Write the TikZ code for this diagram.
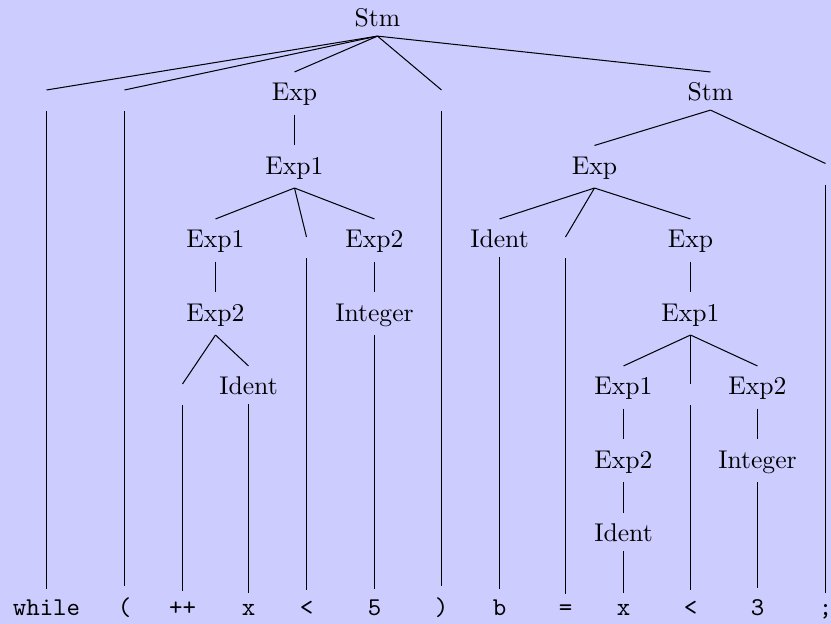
\documentclass[tikz,border=0pt]{standalone}
\usepackage{fontspec}
\begin{document}
\begin{tikzpicture}[x=0.39pt,y=-0.39pt,
  nt/.style={anchor=base,inner sep=3.33pt,text height=7.6pt},
  gap/.style={inner sep=0pt,minimum width=0pt,minimum height=7.8pt},
  term/.style={anchor=base,inner sep=4pt,font=\ttfamily},
  edge/.style={draw=black,line width=0.4pt}]
% canvas
\fill[blue!20] (0,0) rectangle (831,624);
\useasboundingbox (0,0) rectangle (831,624);

% level 0
\node[nt] (s0) at (377.5,26.5) {Stm};
% level 1
\node[gap] (gw) at (46.5,100.5) {};
\node[gap] (gl) at (124.5,100.5) {};
\node[nt] (e1) at (294.5,100.5) {Exp};
\node[gap] (gr) at (441.5,100.5) {};
\node[nt] (s1) at (710.5,100.5) {Stm};
% level 2
\node[nt] (a2) at (294.5,174) {Exp1};
\node[nt] (b2) at (594.5,174) {Exp};
\node[gap] (gs) at (825.5,174) {};
% level 3
\node[nt] (a3) at (215.5,247.5) {Exp1};
\node[gap] (glt) at (306.5,247.5) {};
\node[nt] (c3) at (374.5,247.5) {Exp2};
\node[nt] (d3) at (499.5,247.5) {Ident};
\node[gap] (geq) at (565.5,247.5) {};
\node[nt] (f3) at (690.5,247.5) {Exp};
% level 4
\node[nt] (a4) at (215.5,321) {Exp2};
\node[nt] (c4) at (374.5,321) {Integer};
\node[nt] (f4) at (690.5,321) {Exp1};
% level 5
\node[gap] (gpp) at (182.5,394.5) {};
\node[nt] (b5) at (248.5,394.5) {Ident};
\node[nt] (f5) at (623.5,394.5) {Exp1};
\node[gap] (glt2) at (690.5,394.5) {};
\node[nt] (h5) at (757.5,394.5) {Exp2};
% level 6
\node[nt] (f6) at (623.5,468) {Exp2};
\node[nt] (h6) at (757.5,468) {Integer};
% level 7
\node[nt] (f7) at (623.5,541.5) {Ident};

% terminals
\node[term] (t1) at (46.5,615) {while};
\node[term] (t2) at (124.5,615) {(};
\node[term] (t3) at (182.5,615) {++};
\node[term] (t4) at (248.5,615) {x};
\node[term] (t5) at (306.5,615) {<};
\node[term] (t6) at (374.5,615) {5};
\node[term] (t7) at (441.5,615) {)};
\node[term] (t8) at (499.5,615) {b};
\node[term] (t9) at (565.5,615) {=};
\node[term] (t10) at (623.5,615) {x};
\node[term] (t11) at (690.5,615) {<};
\node[term] (t12) at (757.5,615) {3};
\node[term] (t13) at (825.5,615) {;};

% tree edges
\foreach \c in {gw,gl,e1,gr,s1} \draw[edge] (s0.south) -- (\c.north);
\draw[edge] (e1.south) -- (a2.north);
\foreach \c in {a3,glt,c3} \draw[edge] (a2.south) -- (\c.north);
\foreach \c in {b2,gs} \draw[edge] (s1.south) -- (\c.north);
\foreach \c in {d3,geq,f3} \draw[edge] (b2.south) -- (\c.north);
\draw[edge] (a3.south) -- (a4.north);
\draw[edge] (c3.south) -- (c4.north);
\draw[edge] (f3.south) -- (f4.north);
\foreach \c in {gpp,b5} \draw[edge] (a4.south) -- (\c.north);
\foreach \c in {f5,glt2,h5} \draw[edge] (f4.south) -- (\c.north);
\draw[edge] (f5.south) -- (f6.north);
\draw[edge] (h5.south) -- (h6.north);
\draw[edge] (f6.south) -- (f7.north);

% leaves down to the token row
\draw[edge] (gw.south) -- (t1.north);
\draw[edge] (gl.south) -- (t2.north);
\draw[edge] (gpp.south) -- (t3.north);
\draw[edge] (b5.south) -- (t4.north);
\draw[edge] (glt.south) -- (t5.north);
\draw[edge] (c4.south) -- (t6.north);
\draw[edge] (gr.south) -- (t7.north);
\draw[edge] (d3.south) -- (t8.north);
\draw[edge] (geq.south) -- (t9.north);
\draw[edge] (f7.south) -- (t10.north);
\draw[edge] (glt2.south) -- (t11.north);
\draw[edge] (h6.south) -- (t12.north);
\draw[edge] (gs.south) -- (t13.north);
\end{tikzpicture}
\end{document}
